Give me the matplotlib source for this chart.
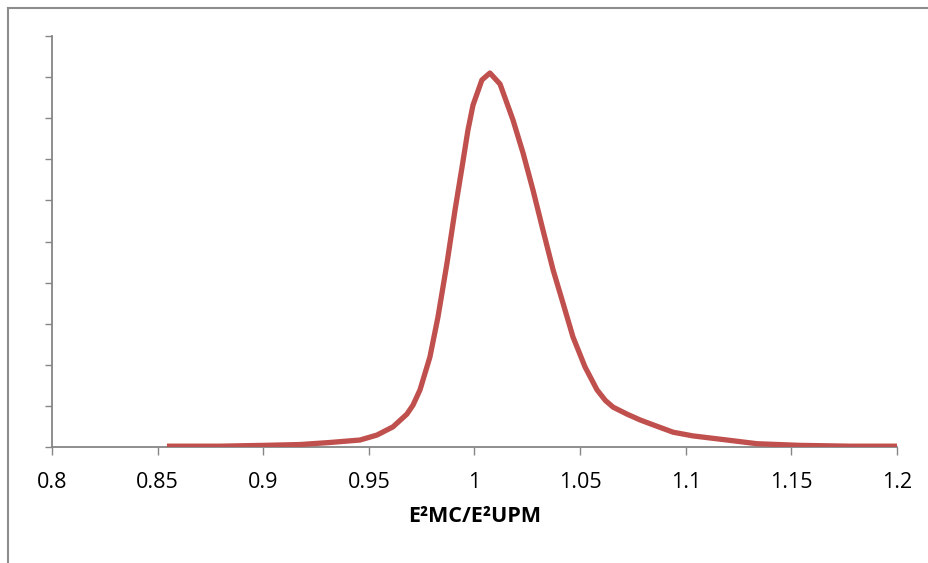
import matplotlib
matplotlib.use("Agg")
import matplotlib.pyplot as plt
from matplotlib.lines import Line2D

# Data (x = E2MC/E2UPM ratio, y = arbitrary frequency)
ratio = [0.8544, 0.8795, 0.9004, 0.9174, 0.9316, 0.9458, 0.9538, 0.9614, 0.9680,
         0.9709, 0.9742, 0.9789, 0.9827, 0.9870, 0.9908, 0.9941, 0.9969, 0.9993,
         1.0035, 1.0073, 1.0121, 1.0182, 1.0230, 1.0277, 1.0324, 1.0372, 1.0419,
         1.0466, 1.0523, 1.0580, 1.0620, 1.0656, 1.0722, 1.0783, 1.0845, 1.0940,
         1.1034, 1.1195, 1.1337, 1.1540, 1.1777, 1.2000]
freq = [0.02, 0.02, 0.04, 0.06, 0.11, 0.17, 0.29, 0.49, 0.80,
        1.02, 1.39, 2.19, 3.16, 4.48, 5.77, 6.81, 7.71, 8.32,
        8.93, 9.10, 8.83, 7.96, 7.15, 6.25, 5.28, 4.31, 3.50,
        2.68, 1.95, 1.39, 1.13, 0.97, 0.80, 0.66, 0.54, 0.36,
        0.27, 0.17, 0.08, 0.04, 0.02, 0.02]
xticks = [0.8, 0.85, 0.9, 0.95, 1.0, 1.05, 1.1, 1.15, 1.2]
xtick_labels = ['0.8', '0.85', '0.9', '0.95', '1', '1.05', '1.1', '1.15', '1.2']
yticks = list(range(0, 11))

plt.rcParams['font.family'] = ['Open Sans', 'DejaVu Sans']

fig = plt.figure(figsize=(9.29, 5.63), dpi=100)
ax = fig.add_axes([52/929, 1 - 447/563, (897-52)/929, (447-36)/563])

ax.plot(ratio, freq, color='#C0504D', lw=3.8, solid_joinstyle='round',
        solid_capstyle='butt', zorder=3)

ax.set_xlim(0.8, 1.2)
ax.set_ylim(0, 10)
ax.set_xticks(xticks)
ax.set_xticklabels(xtick_labels, fontsize=15.5)
ax.set_yticks(yticks)
ax.set_yticklabels([''] * len(yticks))

grey = '#868686'
for s in ['top', 'right']:
    ax.spines[s].set_visible(False)
for s in ['left', 'bottom']:
    ax.spines[s].set_color(grey)
    ax.spines[s].set_linewidth(1.3)
ax.tick_params(axis='x', direction='out', length=6, width=1.0, color=grey,
               pad=12, labelcolor='black')
ax.tick_params(axis='y', direction='out', length=5, width=1.0, color=grey)

ax.set_xlabel('E²MC/E²UPM', fontsize=15.5, fontweight='bold', labelpad=9)

# outer frame (left and top edges visible)
fx = 8/929
fy = 1 - 8/563
fig.add_artist(Line2D([fx, fx], [0, fy], transform=fig.transFigure,
                      color='#8c8c8c', lw=1.5))
fig.add_artist(Line2D([fx, 1], [fy, fy], transform=fig.transFigure,
                      color='#8c8c8c', lw=1.5))

fig.savefig('out.png', dpi=100)
